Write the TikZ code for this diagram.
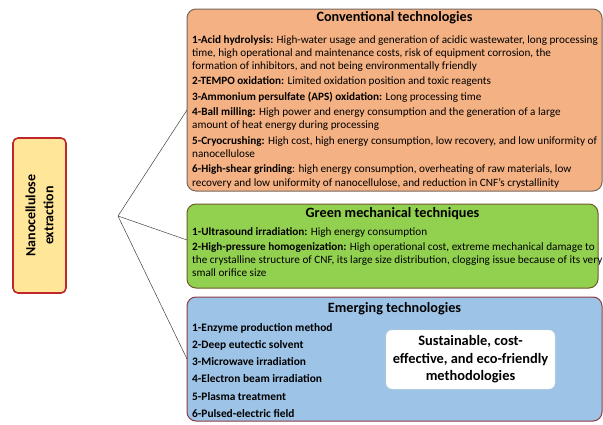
\documentclass[tikz,border=0pt]{standalone}
\usepackage{fontspec}
\setmainfont{Carlito}
\usetikzlibrary{positioning}
\definecolor{ncConv}{HTML}{F4B183}
\definecolor{ncConvLine}{HTML}{76685E}
\definecolor{ncGreen}{HTML}{92D050}
\definecolor{ncGreenLine}{HTML}{6E5B2C}
\definecolor{ncEmerg}{HTML}{9DC3E6}
\definecolor{ncEmergLine}{HTML}{8E3A46}
\definecolor{ncRoot}{HTML}{FFE699}
\definecolor{ncRootLine}{HTML}{C0272D}
\definecolor{ncLink}{HTML}{404040}
\tikzset{
  ncbox/.style={draw, rounded corners=9pt, line width=1pt, inner sep=0pt, outer sep=0pt},
  convbox/.style={ncbox, fill=ncConv, draw=ncConvLine, minimum width=415pt, minimum height=182pt},
  greenbox/.style={ncbox, fill=ncGreen, draw=ncGreenLine, minimum width=411pt, minimum height=84pt},
  emergbox/.style={ncbox, fill=ncEmerg, draw=ncEmergLine, minimum width=415pt, minimum height=124pt},
  rootbox/.style={
    draw=ncRootLine, fill=ncRoot, line width=1.6pt, rounded corners=5pt,
    minimum width=155pt, minimum height=53pt, inner sep=0pt, align=center,
    font=\fontsize{14}{18}\selectfont\bfseries
  },
  sustbox/.style={
    draw=black!12, fill=white, rounded corners=6pt, minimum width=169pt,
    minimum height=59pt, inner sep=0pt, align=center,
    font=\fontsize{14.4}{17.5}\selectfont\bfseries
  },
  grouptitle/.style={font=\fontsize{14.2}{16}\selectfont\bfseries, inner sep=0pt},
  itemtext/.style={font=\fontsize{11.2}{13.2}\selectfont, align=left, inner sep=0pt},
  methodlist/.style={font=\fontsize{11.4}{17.2}\selectfont\bfseries, align=left, inner sep=0pt},
  link/.style={draw=ncLink, line width=0.5pt}
}
\begin{document}
\begin{tikzpicture}[x=1pt, y=-1pt, node distance=4pt]
  \path[use as bounding box, fill=white] (0,0) rectangle (603,424);
  % root and the three groups
  \node[rootbox, rotate=90] (root) at (39.5,215.5) {Nanocellulose\\extraction};
  \coordinate (fork) at (118,216);
  \node[convbox] (conv) at (394.5,100) {};
  \node[greenbox] (green) at (392.5,246) {};
  \node[emergbox] (emerg) at (394.5,359) {};
  \draw[link] (fork) -- ([yshift=-10pt]conv.west);
  \draw[link] (fork) -- ([yshift=6pt]green.west);
  \draw[link] (fork) -- (emerg.west);
  % conventional
  \node[grouptitle, below=2.7pt of conv.north] (convtitle) {Conventional technologies};
  \node[itemtext, below right=26pt and 5pt of conv.north west] (convtext) {%
    \textbf{1-Acid hydrolysis:} High-water usage and generation of acidic wastewater, long processing\\
    time, high operational and maintenance costs, risk of equipment corrosion, the\\
    formation of inhibitors, and not being environmentally friendly\\[2.2pt]
    \textbf{2-TEMPO oxidation:} Limited oxidation position and toxic reagents\\[2.2pt]
    \textbf{3-Ammonium persulfate (APS) oxidation:} Long processing time\\[2.2pt]
    \textbf{4-Ball milling:} High power and energy consumption and the generation of a large\\
    amount of heat energy during processing\\[2.2pt]
    \textbf{5-Cryocrushing:} High cost, high energy consumption, low recovery, and low uniformity of\\
    nanocellulose\\[2.2pt]
    \textbf{6-High-shear grinding}: high energy consumption, overheating of raw materials, low\\
    recovery and low uniformity of nanocellulose, and reduction in CNF's crystallinity};
  % green mechanical
  \node[grouptitle, below=3.7pt of green.north] (greentitle) {Green mechanical techniques};
  \node[itemtext, below right=23pt and 5pt of green.north west] (greentext) {%
    \textbf{1-Ultrasound irradiation:} High energy consumption\\[2.2pt]
    \textbf{2-High-pressure homogenization:} High operational cost, extreme mechanical damage to\\
    the crystalline structure of CNF, its large size distribution, clogging issue because of its very\\
    small orifice size};
  % emerging
  \node[grouptitle, below=5.7pt of emerg.north] (emergtitle) {Emerging technologies};
  \node[methodlist, below right=26pt and 5pt of emerg.north west] (emerglist) {%
    1-Enzyme production method\\
    2-Deep eutectic solvent\\
    3-Microwave irradiation\\
    4-Electron beam irradiation\\
    5-Plasma treatment\\
    6-Pulsed-electric field};
  \node[sustbox] (sust) at (470.5,359.5) {Sustainable, cost-\\effective, and eco-friendly\\methodologies};
\end{tikzpicture}
\end{document}
